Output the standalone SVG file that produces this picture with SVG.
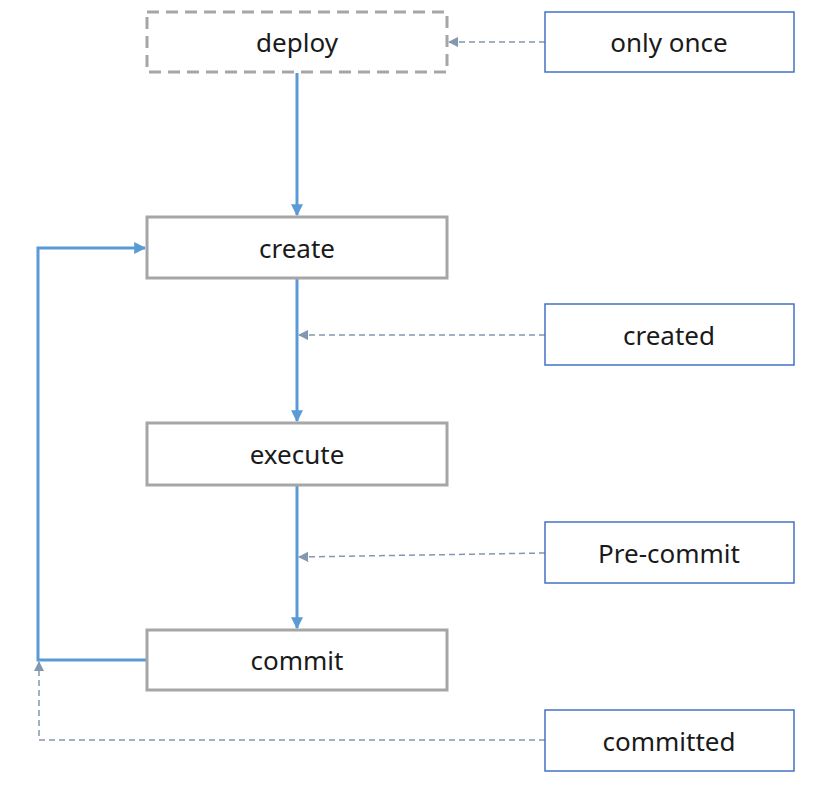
<svg xmlns="http://www.w3.org/2000/svg" width="813" height="785" viewBox="0 0 813 785">
<defs>
<style>
.n{fill:#fff;stroke:#a6a6a6;stroke-width:3}
.d{stroke-dasharray:12 7}
.b{fill:#fff;stroke:#4472c4;stroke-width:1.5}
.t{font-family:"Noto Sans","Open Sans",sans-serif;font-size:26px;fill:#1a1a1a;text-anchor:middle;dominant-baseline:central}
.s{fill:none;stroke:#5b9bd5;stroke-width:3}
.q{fill:none;stroke:#8497b0;stroke-width:1.5;stroke-dasharray:6 4}
</style>
<marker id="ab" viewBox="0 0 10 10" refX="9" refY="5" markerWidth="4" markerHeight="4" orient="auto" markerUnits="strokeWidth"><path d="M0,0L10,5L0,10z" fill="#5b9bd5"/></marker>
<marker id="aq" viewBox="0 0 10 10" refX="9" refY="5" markerWidth="7" markerHeight="7" orient="auto" markerUnits="strokeWidth"><path d="M0,0L10,5L0,10z" fill="#8497b0"/></marker>
</defs>
<g id="connectors">
<path class="s" d="M297,73V215" marker-end="url(#ab)"/>
<path class="s" d="M297,279V421" marker-end="url(#ab)"/>
<path class="s" d="M297,486V628" marker-end="url(#ab)"/>
<path class="s" d="M147,660H38V248H145" marker-end="url(#ab)"/>
<path class="q" d="M545,42H449" marker-end="url(#aq)"/>
<path class="q" d="M545,335H299" marker-end="url(#aq)"/>
<path class="q" d="M545,553L299,557" marker-end="url(#aq)"/>
<path class="q" d="M545,740H39V662" marker-end="url(#aq)"/>
</g>
<g id="deploy"><rect class="n d" x="147" y="12" width="300" height="60"/><text class="t" x="297" y="42">deploy</text></g>
<g id="create"><rect class="n" x="147" y="217" width="300" height="61"/><text class="t" x="297" y="248">create</text></g>
<g id="execute"><rect class="n" x="147" y="423" width="300" height="62"/><text class="t" x="297" y="454">execute</text></g>
<g id="commit"><rect class="n" x="147" y="630" width="300" height="60"/><text class="t" x="297" y="660">commit</text></g>
<g id="only-once"><rect class="b" x="545" y="12" width="249" height="60"/><text class="t" x="669" y="42">only once</text></g>
<g id="created"><rect class="b" x="545" y="304" width="249" height="61"/><text class="t" x="669" y="335">created</text></g>
<g id="pre-commit"><rect class="b" x="545" y="522" width="249" height="61"/><text class="t" x="669" y="553">Pre-commit</text></g>
<g id="committed"><rect class="b" x="545" y="710" width="249" height="61"/><text class="t" x="669" y="741">committed</text></g>
</svg>
